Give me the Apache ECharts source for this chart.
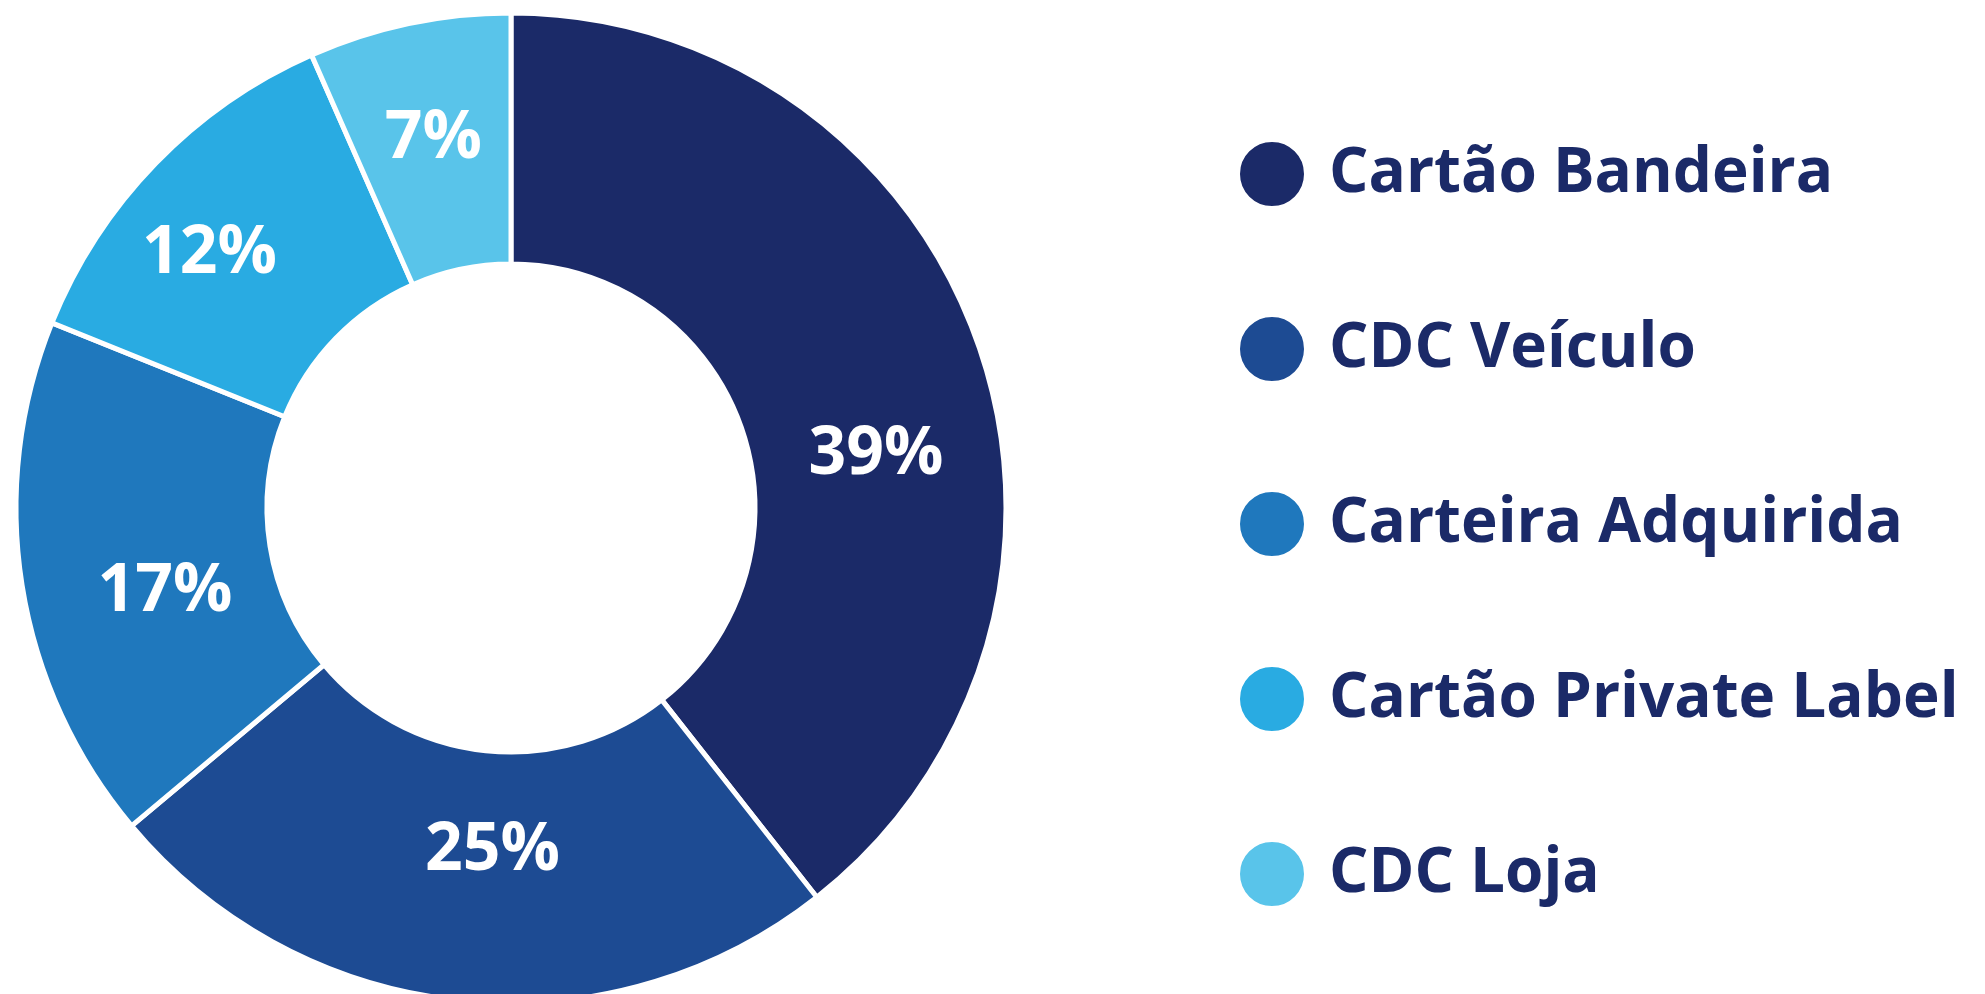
<!DOCTYPE html>
<html>
<head>
<meta charset="utf-8">
<script src="https://cdn.jsdelivr.net/npm/echarts@6/dist/echarts.min.js"></script>
<style>
html,body{margin:0;padding:0;background:#fff;}
#chart{width:1985px;height:994px;}
</style>
</head>
<body>
<div id="chart"></div>
<script>
const categories = ['Cartão Bandeira', 'CDC Veículo', 'Carteira Adquirida', 'Cartão Private Label', 'CDC Loja'];
// shares; the printed labels are these values rounded
const values = [39.4, 24.5, 17.2, 12.3, 6.6];
const colors = ['#1b2a68', '#1d4b93', '#1f78bd', '#29abe2', '#59c4ea'];
const labelOffsets = [[13, 69], [20, -27], [22, 26], [-34, 5], [-1, -4]];

const chart = echarts.init(document.getElementById('chart'), null, {renderer: 'canvas'});
const option = {
  animation: false,
  backgroundColor: '#ffffff',
  legend: {
    orient: 'vertical',
    left: 1233,
    top: 135,
    icon: 'circle',
    itemWidth: 66,
    itemHeight: 66,
    itemGap: 107,
    selectedMode: false,
    data: categories,
    textStyle: {
      color: '#1b2a68',
      fontFamily: 'Open Sans',
      fontWeight: 'bold',
      fontSize: 62,
      lineHeight: 66,
      padding: [0, 0, 0, 19]
    }
  },
  series: [{
    type: 'pie',
    center: [511, 508],
    radius: [244, 495],
    startAngle: 90,
    clockwise: true,
    silent: true,
    itemStyle: { borderColor: '#ffffff', borderWidth: 5 },
    label: {
      show: true,
      position: 'inside',
      formatter: p => Math.round(p.value) + '%',
      color: '#ffffff',
      fontFamily: 'Open Sans',
      fontWeight: 'bold',
      fontSize: 66
    },
    labelLine: { show: false },
    data: categories.map((name, i) => ({
      name: name,
      value: values[i],
      itemStyle: { color: colors[i] },
      label: { offset: labelOffsets[i] }
    }))
  }]
};
chart.setOption(option);
</script>
</body>
</html>
